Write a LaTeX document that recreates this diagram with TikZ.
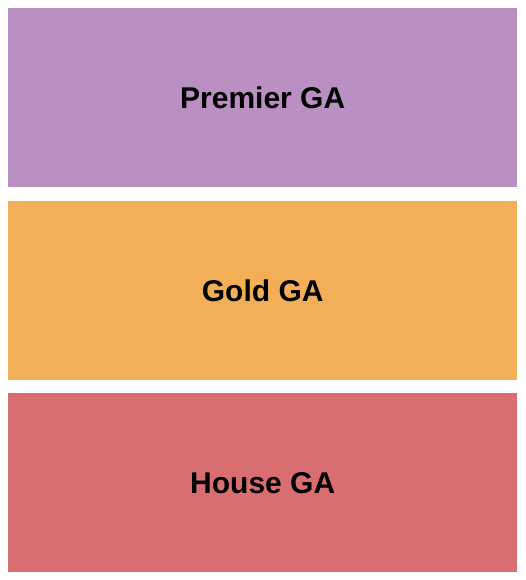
\documentclass[tikz,border=0pt]{standalone}
\usepackage{fontspec}
\setmainfont{Liberation Sans}
\definecolor{premier}{HTML}{BA90C3}
\definecolor{gold}{HTML}{F3AE58}
\definecolor{house}{HTML}{D86E6F}
\begin{document}
\begin{tikzpicture}[x=1pt,y=-1pt,
  section/.style={draw=none,minimum width=509pt,minimum height=179pt,inner sep=0pt,anchor=north west,
    font=\fontsize{30}{36}\selectfont\bfseries,text=black}]
\useasboundingbox[fill=white] (0,0) rectangle (525,580);
\node[section,fill=premier] (premier) at (8,8) {Premier GA};
\node[section,fill=gold] (gold) at (8,201) {Gold GA};
\node[section,fill=house] (house) at (8,393) {House GA};
\end{tikzpicture}
\end{document}
